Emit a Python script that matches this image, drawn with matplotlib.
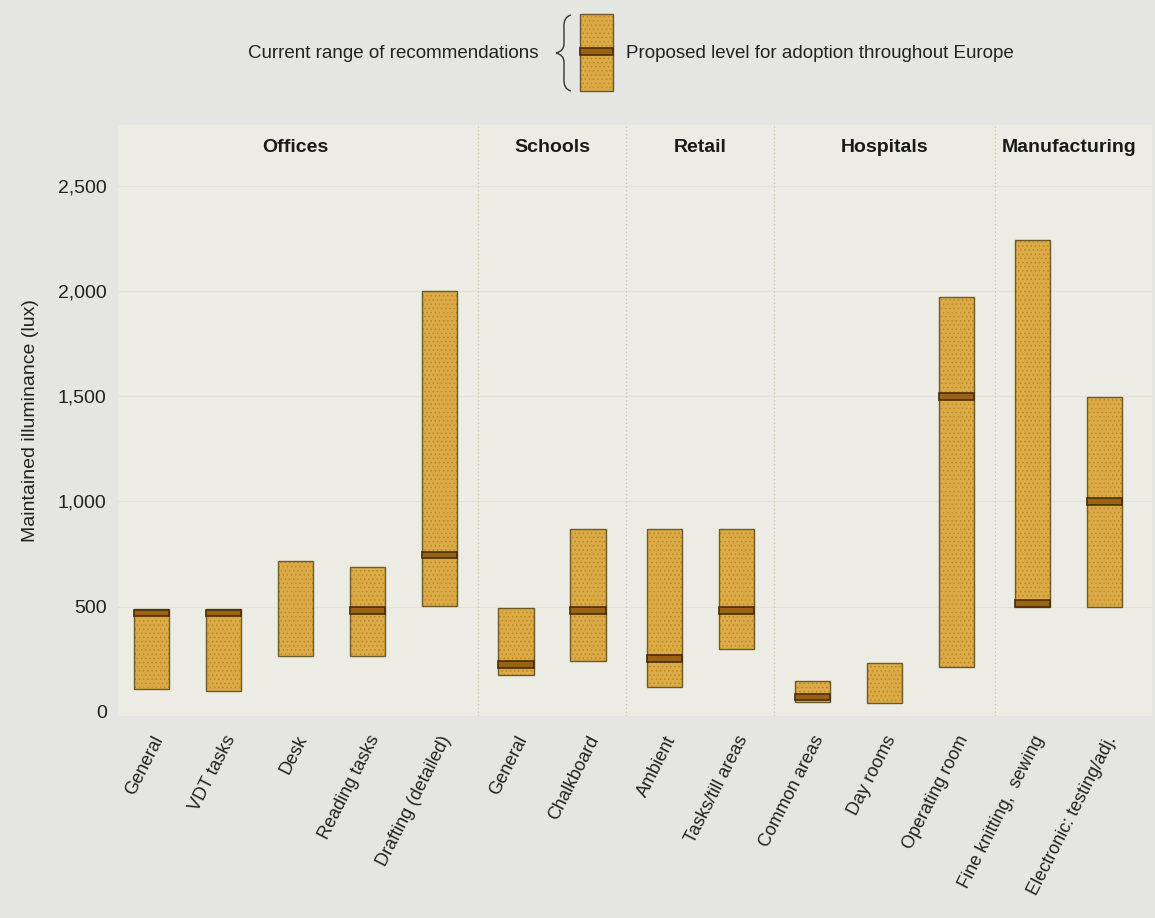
import matplotlib.pyplot as plt
from matplotlib.path import Path
from matplotlib.patches import PathPatch, Rectangle
from matplotlib.ticker import FuncFormatter

plt.rcParams['font.family'] = ['Liberation Sans', 'DejaVu Sans']
plt.rcParams['hatch.linewidth'] = 0.6

# sectors and their tasks
groups = ['Offices', 'Schools', 'Retail', 'Hospitals', 'Manufacturing']
tasks = [
    ['General', 'VDT tasks', 'Desk', 'Reading tasks', 'Drafting (detailed)'],
    ['General', 'Chalkboard'],
    ['Ambient', 'Tasks/till areas'],
    ['Common areas', 'Day rooms', 'Operating room'],
    ['Fine knitting,  sewing', 'Electronic: testing/adj.'],
]
# current range of recommendations (lux)
low = [110, 100, 265, 265, 505, 175, 240, 120, 300, 45, 40, 215, 500, 500]
high = [490, 490, 715, 690, 2000, 495, 870, 870, 870, 145, 230, 1970, 2245, 1495]
# proposed level for adoption throughout Europe (None = no proposal)
proposed = [470, 470, None, 480, 745, 225, 480, 255, 480, 70, None, 1500, 515, 1000]
yticks = [0, 500, 1000, 1500, 2000, 2500]

bar_col = '#dcab45'
stipple = '#b88a2c'
edge_col = '#6e5a2c'
mark_col = '#9a6214'
mark_edge = '#4a2e06'
page_bg = '#e5e5e3'
panel_bg = '#ecece4'

gap = 0.06
pos, labels, group_pos = [], [], []
i = 0
for g, names in enumerate(tasks):
    start = i + g * gap
    for n in names:
        pos.append(i + g * gap)
        labels.append(n)
        i += 1
    group_pos.append((start + pos[-1]) / 2)

fig = plt.figure(figsize=(11.55, 9.18), dpi=100, facecolor=page_bg)
ax = fig.add_axes([0.102, 0.22, 0.895, 0.644])
ax.set_facecolor(panel_bg)
for s in ax.spines.values():
    s.set_visible(False)

heights = [h - l for h, l in zip(high, low)]
# stippled fill, then the outline
ax.bar(pos, heights, bottom=low, width=0.49, color=bar_col, edgecolor=stipple,
       linewidth=0, hatch='....', zorder=3)
ax.bar(pos, heights, bottom=low, width=0.49, fill=False, edgecolor=edge_col,
       linewidth=1.0, zorder=4)

mp = [p for p, m in zip(pos, proposed) if m is not None]
mv = [m - 16 for m in proposed if m is not None]
ax.bar(mp, 32, bottom=mv, width=0.49, color=mark_col, edgecolor=mark_edge,
       linewidth=1.2, zorder=5)

# faint grid and group dividers
for y in yticks[1:]:
    ax.axhline(y, color='#e2e2d6', lw=0.8, zorder=1)
ends = [pos[sum(len(t) for t in tasks[:k + 1]) - 1] for k in range(len(tasks) - 1)]
for e in ends:
    ax.axvline(e + 0.5 + gap / 2, color='#cdc79a', lw=0.9, ls=(0, (1, 2)), zorder=2)

for gp, name in zip(group_pos, groups):
    ax.text(gp, 2680, name, ha='center', va='center', fontsize=14,
            fontweight='bold', color='#1a1a1a')

ax.set_xlim(-0.47, pos[-1] + 0.65)
ax.set_ylim(-20, 2790)
ax.set_yticks(yticks)
ax.yaxis.set_major_formatter(FuncFormatter(lambda v, p: f'{int(v):,}'))
ax.set_xticks(pos)
ax.set_xticklabels(labels, rotation=63, ha='right', rotation_mode='anchor',
                   fontsize=13, color='#222222')
ax.tick_params(length=0, labelsize=14, colors='#222222', pad=8)
ax.tick_params(axis='x', labelsize=13, pad=12)
ax.set_ylabel('Maintained illuminance (lux)', fontsize=14, color='#222222', labelpad=14)

# key at the top, laid out in pixels
key = fig.add_axes([0, 0, 1, 1], facecolor='none')
key.set_xlim(0, 1155)
key.set_ylim(918, 0)
key.axis('off')
key.text(539, 53, 'Current range of recommendations', ha='right', va='center',
         fontsize=13.5, color='#222222')
key.text(626, 53, 'Proposed level for adoption throughout Europe', ha='left', va='center',
         fontsize=13.5, color='#222222')
key.add_patch(Rectangle((580, 14), 33, 77, facecolor=bar_col, edgecolor=stipple,
                        hatch='....', lw=0))
key.add_patch(Rectangle((580, 14), 33, 77, fill=False, edgecolor=edge_col, lw=1.0))
key.add_patch(Rectangle((580, 48), 33, 7, facecolor=mark_col, edgecolor=mark_edge, lw=1.2))
brace = Path([(571, 15), (563, 17), (564, 28), (564, 44), (564, 51), (556, 53),
              (564, 55), (564, 62), (564, 78), (563, 89), (571, 91)],
             [Path.MOVETO, Path.CURVE3, Path.CURVE3, Path.LINETO, Path.CURVE3, Path.CURVE3,
              Path.CURVE3, Path.CURVE3, Path.LINETO, Path.CURVE3, Path.CURVE3])
key.add_patch(PathPatch(brace, fill=False, edgecolor='#333333', lw=1.0))

fig.savefig('out.png', dpi=100, facecolor=page_bg)
